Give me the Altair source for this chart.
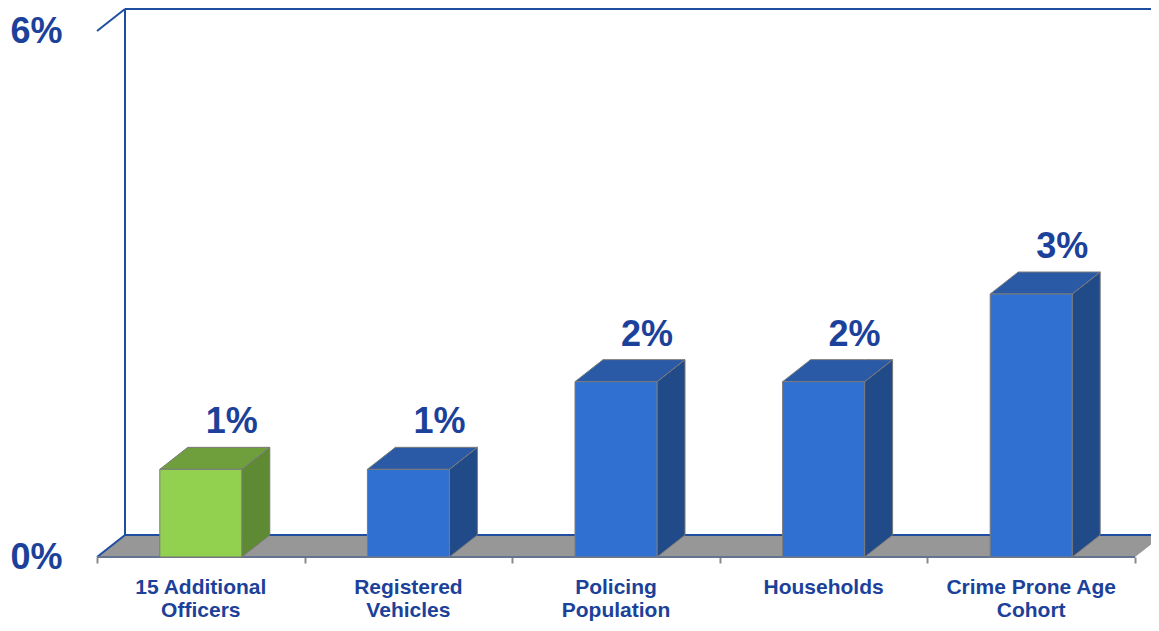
import altair as alt
import pandas as pd

# ---- data ----
categories = ["15 Additional\nOfficers", "Registered\nVehicles", "Policing\nPopulation",
              "Households", "Crime Prone Age\nCohort"]
values = [1, 1, 2, 2, 3]
highlight = [True, False, False, False, False]
y_ticks = [0, 6]

# ---- geometry (pixels) ----
W, H = 1038, 526
PAD = {"left": 89, "top": 23, "right": 16, "bottom": 68}
DEPTH_X, DEPTH_Y = 28, 22          # 3-D depth offsets in px
HALF_W = 41                        # half width of a bar front in px
N = len(categories)

dxd = DEPTH_X / W * N
dyd = DEPTH_Y / H * 6
hw = HALF_W / (W / N)

BLUE_TXT = "#1b419a"
WALL = "#1f4ea0"
grp_dom = ["hi", "lo"]

xs = alt.Scale(domain=[0, N], nice=False, zero=False)
ys = alt.Scale(domain=[0, 6], nice=False, zero=False)
x_axis = alt.Axis(values=list(range(N + 1)), labels=False, tickColor="#8a8a8a", tickSize=6,
                  tickWidth=2, domain=False, grid=False, title=None)
y_axis = alt.Axis(values=y_ticks, labelExpr="datum.value + '%'", labelFontSize=36,
                  labelFont="Liberation Sans", labelFontWeight="bold", labelColor=BLUE_TXT,
                  tickSize=0, domain=False, grid=False, labelPadding=35, title=None,
                  labelBaseline="middle")

front_rows, side_rows, top_rows, lab_rows = [], [], [], []
for i, (c, v, h) in enumerate(zip(categories, values, highlight)):
    g = "hi" if h else "lo"
    cx = i + 0.5
    xl, xr = cx - hw, cx + hw
    front_rows.append(dict(x=xl, x2=xr, lo=0, hi=v, grp=g))
    side_rows += [dict(bar=i, x=xr, lo=0, hi=v, grp=g),
                  dict(bar=i, x=xr + dxd, lo=dyd, hi=v + dyd, grp=g)]
    top_rows += [dict(bar=i, x=xl, lo=v, hi=v, grp=g),
                 dict(bar=i, x=xl + dxd, lo=v, hi=v + dyd, grp=g),
                 dict(bar=i, x=xr, lo=v, hi=v + dyd, grp=g),
                 dict(bar=i, x=xr + dxd, lo=v + dyd, hi=v + dyd, grp=g)]
    lab_rows.append(dict(x=cx, v=v, txt=f"{v}%", cat=c))

front = pd.DataFrame(front_rows)
side = pd.DataFrame(side_rows)
top = pd.DataFrame(top_rows)
labs = pd.DataFrame(lab_rows)

floor = pd.DataFrame([
    dict(x=0, lo=0, hi=0), dict(x=dxd, lo=0, hi=dyd),
    dict(x=N, lo=0, hi=dyd), dict(x=N + dxd, lo=dyd, hi=dyd)])

walls = pd.DataFrame([
    dict(x=dxd, y=dyd, x2=dxd, y2=6 + dyd),          # back left vertical
    dict(x=dxd, y=6 + dyd, x2=N + dxd, y2=6 + dyd),  # back top
    dict(x=dxd, y=dyd, x2=N + dxd, y2=dyd),          # back floor edge
    dict(x=0, y=6, x2=dxd, y2=6 + dyd),              # top-left diagonal
    dict(x=0, y=0, x2=dxd, y2=dyd),                  # bottom-left diagonal
])
front_edge = pd.DataFrame([dict(x=0, y=0, x2=N, y2=0)])

X = lambda f: alt.X(f, type="quantitative", scale=xs, axis=x_axis)
Y = lambda f: alt.Y(f, type="quantitative", scale=ys, axis=y_axis, stack=None)

floor_l = alt.Chart(floor).mark_area(color="#979797", opacity=1).encode(
    x=X("x"), y=Y("lo"), y2="hi")

wall_l = alt.Chart(walls).mark_rule(color=WALL, strokeWidth=2).encode(
    x=X("x"), y=Y("y"), x2="x2", y2="y2")

edge_l = alt.Chart(front_edge).mark_rule(color="#66738f", strokeWidth=2).encode(
    x=X("x"), y=Y("y"), x2="x2", y2="y2")

side_l = alt.Chart(side).mark_area(stroke="#7a7a7a", strokeWidth=1, opacity=1).encode(
    x=X("x"), y=Y("lo"), y2="hi", detail="bar:N",
    fill=alt.Fill("grp:N", scale=alt.Scale(domain=grp_dom, range=["#5e8a33", "#214a88"]),
                  legend=None))

top_l = alt.Chart(top).mark_area(stroke="#7a7a7a", strokeWidth=1, opacity=1).encode(
    x=X("x"), y=Y("lo"), y2="hi", detail="bar:N",
    fill=alt.Fill("grp:N", scale=alt.Scale(domain=grp_dom, range=["#6f9f3d", "#2a5aa6"]),
                  legend=None))

front_l = alt.Chart(front).mark_rect(stroke="#7a7a7a", strokeWidth=1).encode(
    x=X("x"), x2="x2", y=Y("lo"), y2="hi",
    fill=alt.Fill("grp:N", scale=alt.Scale(domain=grp_dom, range=["#92d050", "#3070d0"]),
                  legend=None))

val_l = alt.Chart(labs).mark_text(font="Liberation Sans", fontWeight="bold", fontSize=36,
                                  color=BLUE_TXT, dx=31, dy=-47, baseline="middle").encode(
    x=X("x"), y=Y("v"), text="txt:N")

cat_l = alt.Chart(labs).mark_text(font="Liberation Sans", fontWeight="bold", fontSize=21,
                                  color=BLUE_TXT, lineBreak="\n", lineHeight=23,
                                  baseline="alphabetic", dy=37).encode(
    x=X("x"), y=alt.Y("zero:Q", scale=ys, axis=y_axis), text="cat:N"
).transform_calculate(zero="0")

chart = alt.layer(floor_l, wall_l, edge_l, side_l, top_l, front_l, val_l, cat_l).properties(
    width=W, height=H, padding=PAD, autosize=alt.AutoSizeParams(type="none"),
    background="white"
).resolve_scale(fill="independent").configure_view(stroke=None)

chart.save("out.html", embed_options={"renderer": "svg", "actions": False})
